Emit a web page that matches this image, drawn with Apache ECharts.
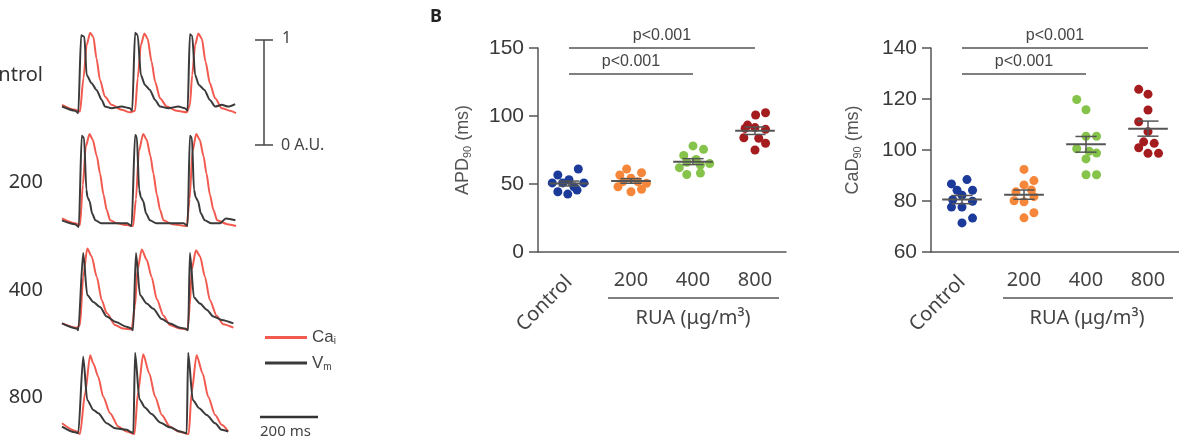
<!DOCTYPE html>
<html>
<head>
<meta charset="utf-8">
<script src="https://cdn.jsdelivr.net/npm/echarts@6/dist/echarts.min.js"></script>
<style>
html, body { margin: 0; padding: 0; background: #fff; }
#main { width: 1179px; height: 436px; }
</style>
</head>
<body>
<div id="main"></div>
<script>
// ---- panel A: optical traces, [time (ms), normalised signal] ----
var rowNames = ['Control', '200', '400', '800'];

var caControl = [[0,.11],[45,.05],[62,.03],[74,.43],[85,.83],[97,.98],[108,.93],[119,.67],[131,.41],[148,.21],[171,.11],[206,.05],[234,.02],[252,.04],[261,.43],[272,.83],[284,.97],[295,.91],[309,.63],[321,.39],[338,.19],[361,.09],[395,.04],[430,.02],[441,.11],[449,.47],[459,.83],[470,.97],[482,.91],[495,.63],[510,.37],[528,.19],[551,.07],[579,.04],[600,.01]];
var vmControl = [[0,.09],[45,.04],[56,.01],[66,.95],[77,.93],[85,.47],[102,.37],[119,.29],[137,.17],[148,.09],[171,.07],[206,.09],[234,.07],[242,.04],[252,.98],[261,.95],[272,.47],[286,.35],[303,.29],[321,.17],[338,.09],[367,.07],[401,.09],[424,.07],[433,.04],[441,.96],[449,.94],[459,.47],[472,.35],[491,.29],[510,.17],[528,.09],[551,.11],[573,.09],[597,.12]];

var ca200 = [[0,.1],[45,.05],[62,.03],[72,.45],[82,.85],[95,.98],[106,.92],[120,.75],[131,.57],[143,.35],[154,.19],[166,.08],[190,.05],[223,.03],[245,.02],[255,.3],[265,.8],[280,.98],[292,.92],[305,.75],[315,.57],[327,.35],[338,.19],[350,.08],[380,.04],[430,.02],[440,.3],[450,.8],[463,.98],[475,.92],[488,.75],[498,.57],[510,.35],[522,.19],[535,.08],[570,.04],[600,.02]];
var vm200 = [[0,.08],[45,.04],[58,.01],[68,.96],[76,.94],[84,.4],[88,.32],[95,.28],[104,.15],[115,.08],[135,.05],[190,.05],[225,.05],[240,.02],[252,.97],[258,.95],[266,.4],[272,.32],[280,.28],[290,.15],[303,.08],[325,.05],[380,.05],[420,.05],[433,.02],[441,.96],[448,.94],[455,.4],[461,.32],[469,.28],[479,.15],[492,.08],[515,.05],[545,.05],[565,.1],[598,.08]];

var ca400 = [[0,.10],[51,.05],[62,.08],[73,.64],[87,.97],[102,.88],[120,.64],[137,.37],[154,.22],[183,.08],[211,.04],[240,.03],[252,.31],[260,.72],[275,.96],[292,.84],[309,.64],[327,.38],[350,.19],[372,.08],[407,.04],[433,.03],[441,.31],[447,.72],[462,.95],[476,.88],[493,.64],[510,.37],[533,.19],[556,.09],[591,.05]];
var vm400 = [[0,.10],[51,.04],[56,.02],[73,.92],[87,.43],[108,.35],[131,.29],[154,.18],[183,.12],[223,.06],[240,.04],[245,.02],[255,.92],[269,.43],[292,.33],[315,.27],[344,.15],[372,.10],[407,.05],[424,.04],[435,.02],[441,.92],[455,.40],[476,.33],[499,.26],[522,.18],[551,.14],[591,.10]];

var ca800 = [[0,.13],[45,.04],[62,0],[80,.5],[97,.95],[108,.85],[125,.69],[142,.45],[166,.25],[194,.09],[223,.03],[250,0],[262,.5],[280,.96],[301,.73],[321,.45],[344,.23],[372,.09],[401,.03],[437,0],[447,.5],[464,.95],[485,.73],[504,.45],[528,.23],[551,.11],[573,.03]];
var vm800 = [[0,.09],[45,.02],[56,.01],[73,.93],[87,.41],[108,.29],[125,.25],[154,.13],[183,.07],[223,.05],[240,.02],[246,.01],[252,.98],[267,.42],[286,.32],[309,.24],[338,.14],[372,.08],[407,.03],[430,.01],[435,.98],[451,.41],[473,.31],[499,.23],[528,.13],[551,.05],[573,.03]];

var caRows = [caControl, ca200, ca400, ca800];
var vmRows = [vmControl, vm200, vm400, vm800];

// ---- panel B: dot plots ----
var groups = ['Control', '200', '400', '800'];
var groupColors = ['#1b3a9a', '#f6873a', '#86c34a', '#a51c1f'];

var apdValues = [
  [61, 56.6, 53.2, 50.8, 50.8, 50.8, 48, 44.3, 45.5, 42.6],
  [61, 58.3, 56.6, 54.2, 51.7, 51.7, 50.5, 48, 44.3, 46.1],
  [78, 75.5, 71, 68, 66, 65, 64, 62, 58, 57],
  [102.4, 100.7, 93.3, 91.5, 90.9, 90.2, 84, 83.6, 80, 75]
];
var apdJitter = [
  [0.15, -0.18, 0, -0.27, 0.24, -0.1, 0.08, -0.18, 0.13, -0.02],
  [-0.07, 0.17, -0.18, 0, -0.13, 0.11, 0.25, -0.21, 0, 0.17],
  [0, 0.17, -0.15, 0.05, -0.1, 0.27, 0.12, -0.22, 0.12, -0.1],
  [0.17, 0.01, -0.12, 0, -0.16, 0.17, -0.18, 0.06, 0.17, 0]
];
var cadValues = [
  [88.4, 86.7, 84.2, 84.2, 82.3, 80.5, 79.9, 77.6, 77.6, 73.3, 71.4],
  [92.4, 88, 86.3, 84.3, 83.6, 81.7, 80.1, 79.7, 75.4, 73.4],
  [119.8, 115.8, 105.4, 105.4, 100.5, 99.5, 98.8, 96.5, 90.3, 90.3],
  [123.8, 121.9, 115.7, 111.1, 107.2, 103.2, 102.6, 100.9, 98.7, 98.7]
];
var cadJitter = [
  [0.08, -0.17, -0.08, 0.17, 0, -0.15, 0.17, -0.17, 0, 0.17, 0],
  [0, 0.16, 0, 0.12, -0.13, 0.16, -0.16, 0, 0.16, 0],
  [-0.15, 0, 0, 0.17, -0.15, 0.05, 0.17, 0, 0, 0.17],
  [-0.15, 0, 0, -0.15, 0, -0.07, 0.1, -0.15, 0, 0.17]
];
var apdTicks = [0, 50, 100, 150];
var cadTicks = [60, 80, 100, 120, 140];
// significance bars: [from group, to group, y value]
var apdSig = [[0, 2, 131], [0, 3, 150]];
var cadSig = [[0, 2, 130], [0, 3, 140]];
var sigText = 'p<0.001';

var myChart = echarts.init(document.getElementById('main'));

function meanSem(arr) {
  var n = arr.length, m = 0, s = 0;
  arr.forEach(function (v) { m += v; });
  m = m / n;
  arr.forEach(function (v) { s += (v - m) * (v - m); });
  return [m, Math.sqrt(s / (n - 1)) / Math.sqrt(n)];
}

function renderMean(params, api) {
  var x = api.value(0), m = api.value(1), s = api.value(2);
  var c = api.coord([x, m]);
  var hi = api.coord([x, m + s]);
  var lo = api.coord([x, m - s]);
  var w = api.size([1, 0])[0];
  var st = { stroke: '#555', lineWidth: 2 };
  var thin = { stroke: '#555', lineWidth: 1.5 };
  return {
    type: 'group',
    children: [
      { type: 'line', shape: { x1: c[0] - w * 0.32, y1: c[1], x2: c[0] + w * 0.32, y2: c[1] }, style: st },
      { type: 'line', shape: { x1: c[0], y1: hi[1], x2: c[0], y2: lo[1] }, style: thin },
      { type: 'line', shape: { x1: c[0] - w * 0.17, y1: hi[1], x2: c[0] + w * 0.17, y2: hi[1] }, style: thin },
      { type: 'line', shape: { x1: c[0] - w * 0.17, y1: lo[1], x2: c[0] + w * 0.17, y2: lo[1] }, style: thin }
    ]
  };
}

var grids = [];
var xAxes = [];
var yAxes = [];
var series = [];

// panel A rows
var rowTop = [31, 132, 246, 351];
var rowHeight = [83, 96, 86, 83];
rowNames.forEach(function (name, r) {
  grids.push({ left: 62, width: 174, top: rowTop[r], height: rowHeight[r] });
  xAxes.push({ gridIndex: r, type: 'value', min: 0, max: 600, show: false });
  yAxes.push({ gridIndex: r, type: 'value', min: 0, max: 1, show: false });
  series.push({
    type: 'line', name: 'Cai', xAxisIndex: r, yAxisIndex: r, data: caRows[r],
    showSymbol: false, smooth: 0.25, smoothMonotone: 'x', color: '#f25a50',
    lineStyle: { color: '#f25a50', width: 2 }, z: 2
  });
  series.push({
    type: 'line', name: 'Vm', xAxisIndex: r, yAxisIndex: r, data: vmRows[r],
    showSymbol: false, smooth: 0.25, smoothMonotone: 'x', color: '#3a3a3a',
    lineStyle: { color: '#3a3a3a', width: 2 }, z: 3
  });
});

// panel B charts
var rich = {
  a: { fontSize: 18, color: '#555', fontFamily: 'Liberation Sans' },
  s: { fontSize: 11, color: '#555', fontFamily: 'Liberation Sans', padding: [9, 0, 0, 0] }
};
function addDotPlot(gi, left, values, jitter, ticks, sig, label, nameGap) {
  var xv = xAxes.length;
  var yi = yAxes.length;
  grids.push({ left: left, width: 248, top: 48, height: 204 });
  xAxes.push({ gridIndex: gi, type: 'value', min: -0.5, max: 3.5, show: false, position: 'bottom' });
  xAxes.push({
    gridIndex: gi, type: 'category', data: groups, boundaryGap: true, position: 'bottom',
    axisLine: { onZero: false, lineStyle: { color: '#555', width: 1.5 } },
    axisTick: { alignWithLabel: true, length: 9, lineStyle: { color: '#555', width: 1.5 } },
    axisLabel: {
      margin: 18, fontSize: 20, color: '#444', fontFamily: 'Noto Sans',
      formatter: function (v) { return v === 'Control' ? '' : v; }
    }
  });
  xAxes.push({
    gridIndex: gi, type: 'category', data: groups, boundaryGap: true, position: 'bottom',
    axisLine: { show: false, onZero: false }, axisTick: { show: false },
    axisLabel: {
      rotate: 45, margin: 27, fontSize: 20, color: '#444', fontFamily: 'Noto Sans',
      formatter: function (v) { return v === 'Control' ? v : ''; }
    }
  });
  yAxes.push({
    gridIndex: gi, type: 'value', min: ticks[0], max: ticks[ticks.length - 1],
    interval: ticks[1] - ticks[0], position: 'left',
    name: label, nameLocation: 'middle', nameGap: nameGap, nameRotate: 90,
    nameTextStyle: { rich: rich },
    axisLine: { show: true, onZero: false, lineStyle: { color: '#555', width: 1.5 } },
    axisTick: { show: true, length: 9, lineStyle: { color: '#555', width: 1.5 } },
    axisLabel: { margin: 14, fontSize: 21, color: '#3a3a3a', fontFamily: 'Liberation Sans' },
    splitLine: { show: false }
  });
  groups.forEach(function (g, k) {
    series.push({
      type: 'scatter', name: g, xAxisIndex: xv, yAxisIndex: yi,
      symbolSize: 9, itemStyle: { color: groupColors[k], opacity: 1 },
      data: values[k].map(function (v, i) { return [k + jitter[k][i], v]; }),
      z: 2
    });
  });
  series.push({
    type: 'custom', xAxisIndex: xv, yAxisIndex: yi, renderItem: renderMean, z: 4,
    data: values.map(function (arr, k) { var ms = meanSem(arr); return [k, ms[0], ms[1]]; }),
    markLine: {
      symbol: 'none', silent: true, animation: false,
      lineStyle: { color: '#555', width: 1.5, type: 'solid' },
      label: {
        show: true, position: 'middle', formatter: sigText, distance: 4,
        fontSize: 16, color: '#444', fontFamily: 'Liberation Sans'
      },
      data: sig.map(function (s) { return [{ coord: [s[0], s[2]] }, { coord: [s[1], s[2]] }]; })
    }
  });
}
addDotPlot(4, 538, apdValues, apdJitter, apdTicks, apdSig, '{a|APD}{s|90}{a| (ms)}', 65);
addDotPlot(5, 931, cadValues, cadJitter, cadTicks, cadSig, '{a|CaD}{s|90}{a| (ms)}', 68);

var option = {
  animation: false,
  backgroundColor: '#fff',
  grid: grids,
  xAxis: xAxes,
  yAxis: yAxes,
  legend: {
    data: ['Cai', 'Vm'], orient: 'vertical', left: 260, top: 324,
    icon: 'rect', itemWidth: 42, itemHeight: 3, itemGap: 8,
    formatter: function (n) { return n === 'Cai' ? '{a|Ca}{s|i}' : '{a|V}{s|m}'; },
    textStyle: {
      rich: {
        a: { fontSize: 17, color: '#444', fontFamily: 'Liberation Sans' },
        s: { fontSize: 10, color: '#444', fontFamily: 'Liberation Sans', padding: [8, 0, 0, 0] }
      }
    }
  },
  graphic: [
    { type: 'text', x: 43, y: 75, style: { text: rowNames[0], textAlign: 'right', textVerticalAlign: 'middle', font: '20px "Noto Sans"', fill: '#333' } },
    { type: 'text', x: 43, y: 182, style: { text: rowNames[1], textAlign: 'right', textVerticalAlign: 'middle', font: '20px "Noto Sans"', fill: '#333' } },
    { type: 'text', x: 43, y: 290, style: { text: rowNames[2], textAlign: 'right', textVerticalAlign: 'middle', font: '20px "Noto Sans"', fill: '#333' } },
    { type: 'text', x: 43, y: 397, style: { text: rowNames[3], textAlign: 'right', textVerticalAlign: 'middle', font: '20px "Noto Sans"', fill: '#333' } },
    // amplitude scale bar
    { type: 'line', shape: { x1: 264, y1: 40, x2: 264, y2: 145 }, style: { stroke: '#444', lineWidth: 1.5 } },
    { type: 'line', shape: { x1: 255, y1: 40, x2: 273, y2: 40 }, style: { stroke: '#444', lineWidth: 1.5 } },
    { type: 'line', shape: { x1: 255, y1: 145, x2: 273, y2: 145 }, style: { stroke: '#444', lineWidth: 1.5 } },
    { type: 'text', x: 282, y: 38, style: { text: '1', textVerticalAlign: 'middle', font: '16px "Noto Sans"', fill: '#444' } },
    { type: 'text', x: 281, y: 145, style: { text: '0 A.U.', textVerticalAlign: 'middle', font: '16px "Noto Sans"', fill: '#444' } },
    // time scale bar
    { type: 'line', shape: { x1: 260, y1: 417, x2: 318, y2: 417 }, style: { stroke: '#333', lineWidth: 2.5 } },
    { type: 'text', x: 260, y: 424, style: { text: '200 ms', font: '15px "Noto Sans"', fill: '#444' } },
    // panel B
    { type: 'text', x: 430, y: 8, style: { text: 'B', font: 'bold 18px "Noto Sans"', fill: '#222' } },
    { type: 'line', shape: { x1: 608, y1: 298, x2: 779, y2: 298 }, style: { stroke: '#555', lineWidth: 1.5 } },
    { type: 'text', x: 693, y: 318, style: { text: 'RUA (μg/m³)', textAlign: 'center', textVerticalAlign: 'middle', font: '20px "Noto Sans"', fill: '#444' } },
    { type: 'line', shape: { x1: 1003, y1: 298, x2: 1173, y2: 298 }, style: { stroke: '#555', lineWidth: 1.5 } },
    { type: 'text', x: 1087, y: 318, style: { text: 'RUA (μg/m³)', textAlign: 'center', textVerticalAlign: 'middle', font: '20px "Noto Sans"', fill: '#444' } }
  ],
  series: series
};
myChart.setOption(option);
</script>
</body>
</html>
